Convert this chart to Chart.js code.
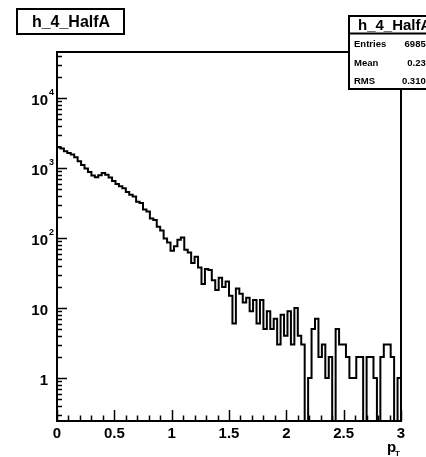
<!DOCTYPE html>
<html>
<head>
<meta charset="utf-8">
<script src="https://cdn.jsdelivr.net/npm/chart.js@4.4.0/dist/chart.umd.min.js"></script>
<style>
  body { margin: 0; background: #fff; }
  #box { width: 426px; height: 457px; }
</style>
</head>
<body>
<div id="box"><canvas id="histo" width="426" height="457"></canvas></div>
<script>
// histogram h_4_HalfA : 100 bins from 0 to 3
const histName = "h_4_HalfA";
const xLow = 0;
const xHigh = 3;
const counts = [
  2000, 1900, 1740, 1640, 1560, 1420, 1250, 1100, 980, 880,
  780, 740, 790, 850, 800, 730, 650, 590, 550, 515,
  455, 415, 390, 330, 315, 255, 240, 190, 180, 145,
  128, 98, 86, 66, 76, 94, 102, 68, 62, 44,
  54, 38, 22, 36, 35, 25, 18, 27, 20, 24,
  15, 6, 19, 16, 12, 14, 9, 13, 6, 13,
  5, 9, 5, 7, 3, 8, 4, 9, 3, 10,
  4, 3, 0, 1, 5, 7, 2, 3, 1, 2,
  0, 5, 3, 3, 2, 1, 1, 2, 2, 0,
  2, 2, 1, 0, 2, 3, 3, 2, 0, 1
];
const xTickValues = [0, 0.5, 1, 1.5, 2, 2.5, 3];
const xTickLabels = ["0", "0.5", "1", "1.5", "2", "2.5", "3"];
const yDecades = [1, 10, 100, 1000, 10000];
const yDecadeBase = ["1", "10", "10", "10", "10"];
const yDecadeExp = ["", "", "2", "3", "4"];
const yMin = 0.243;
const yMax = 45400;
const statNames = ["Entries", "Mean", "RMS"];
const statValues = ["69858", "0.239", "0.3109"];

const binW = (xHigh - xLow) / counts.length;
// empty bins fall below the log axis and are clipped at the frame, like ROOT
const points = counts.map((c, i) => ({ x: xLow + i * binW, y: c > 0 ? c : yMin / 10 }));
points.push({ x: xHigh, y: counts[counts.length - 1] });

const FONT = '"Liberation Sans", Arial, Helvetica, sans-serif';

// ROOT style frame, ticks, labels, title and stats boxes
const rootFrame = {
  id: "rootFrame",
  afterDraw(chart) {
    const ctx = chart.ctx;
    const a = chart.chartArea;
    const xs = chart.scales.x;
    const ys = chart.scales.y;
    ctx.save();
    ctx.strokeStyle = "#000";
    ctx.fillStyle = "#000";
    ctx.lineWidth = 2;
    ctx.strokeRect(a.left, a.top, a.right - a.left, a.bottom - a.top);

    // x ticks
    ctx.lineWidth = 1.5;
    for (let k = 0; k <= 30; k++) {
      const v = xLow + k * 0.1;
      const px = Math.round(xs.getPixelForValue(v)) + 0.5;
      const len = k % 5 === 0 ? 11 : 5.5;
      ctx.beginPath();
      ctx.moveTo(px, a.bottom);
      ctx.lineTo(px, a.bottom - len);
      ctx.stroke();
    }
    ctx.font = "bold 15px " + FONT;
    ctx.textAlign = "center";
    ctx.textBaseline = "alphabetic";
    xTickValues.forEach((v, i) => {
      ctx.fillText(xTickLabels[i], xs.getPixelForValue(v), a.bottom + 17);
    });

    // y ticks (log)
    for (let d = 0.1; d <= 10000; d *= 10) {
      for (let k = 1; k <= 9; k++) {
        const v = k * d;
        if (v < yMin || v > yMax) continue;
        const py = Math.round(ys.getPixelForValue(v)) + 0.5;
        const len = k === 1 ? 10 : 5;
        ctx.beginPath();
        ctx.moveTo(a.left, py);
        ctx.lineTo(a.left + len, py);
        ctx.stroke();
      }
    }
    yDecades.forEach((v, i) => {
      const py = ys.getPixelForValue(v);
      ctx.font = "bold 15px " + FONT;
      ctx.textAlign = "right";
      ctx.fillText(yDecadeBase[i], 48, py + 7);
      if (yDecadeExp[i]) {
        ctx.font = "bold 9px " + FONT;
        ctx.textAlign = "left";
        ctx.fillText(yDecadeExp[i], 49, py - 3);
      }
    });

    // axis title p_T
    ctx.font = "bold 15px " + FONT;
    ctx.textAlign = "left";
    ctx.fillText("p", 387, 452);
    ctx.font = "bold 8px " + FONT;
    ctx.fillText("T", 395, 456);

    // title box
    ctx.lineWidth = 2;
    ctx.fillStyle = "#fff";
    ctx.fillRect(17, 9, 107, 25);
    ctx.strokeRect(17, 9, 107, 25);
    ctx.fillStyle = "#000";
    ctx.font = "bold 16px " + FONT;
    ctx.textAlign = "center";
    ctx.fillText(histName, 71, 27);

    // stats box
    ctx.fillStyle = "#fff";
    ctx.fillRect(349, 16, 100, 73);
    ctx.strokeRect(349, 16, 100, 73);
    ctx.beginPath();
    ctx.moveTo(349, 33.5);
    ctx.lineTo(449, 33.5);
    ctx.stroke();
    ctx.fillStyle = "#000";
    ctx.font = "bold 15px " + FONT;
    ctx.textAlign = "left";
    ctx.fillText(histName, 358, 30);
    ctx.font = "bold 9.5px " + FONT;
    statNames.forEach((n, i) => {
      const y = 47 + i * 18.5;
      ctx.textAlign = "left";
      ctx.fillText(n, 354, y);
      ctx.textAlign = "right";
      ctx.fillText(statValues[i], 431, y);
    });
    ctx.restore();
  }
};

new Chart(document.getElementById("histo").getContext("2d"), {
  type: "line",
  data: {
    datasets: [{
      label: histName,
      data: points,
      stepped: "before",
      borderColor: "#000",
      borderWidth: 2,
      pointRadius: 0,
      fill: false,
      tension: 0
    }]
  },
  options: {
    responsive: false,
    animation: false,
    layout: { padding: { left: 57, right: 25, top: 52, bottom: 36 } },
    plugins: { legend: { display: false }, tooltip: { enabled: false } },
    scales: {
      x: { type: "linear", min: xLow, max: xHigh, display: false },
      y: { type: "logarithmic", min: yMin, max: yMax, display: false }
    }
  },
  plugins: [rootFrame]
});
</script>
</body>
</html>
